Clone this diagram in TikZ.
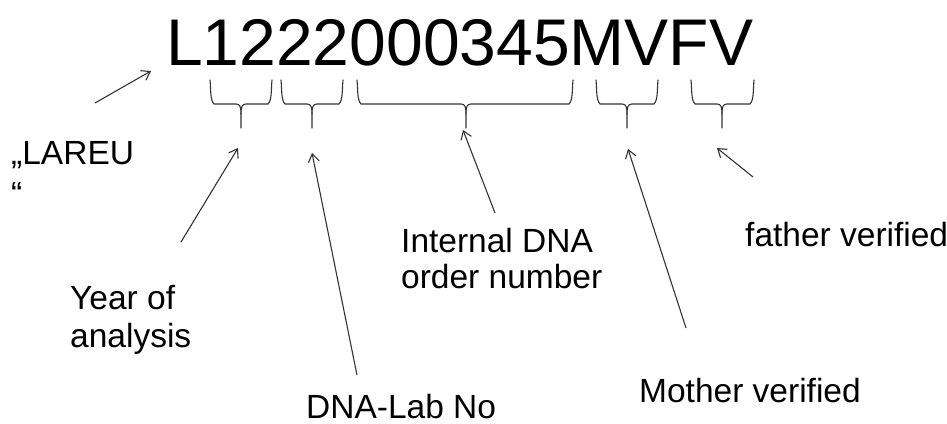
\documentclass[tikz,border=0pt]{standalone}
\usepackage{fontspec}
\setmainfont{Liberation Sans}
\usetikzlibrary{arrows.meta}

% underbracket: left x, right x, centre x, name of the tip
\newcommand\underbracket[4]{%
  \draw[bracketline] (#1,80) .. controls (#1+1,90) and (#1,100) .. (#1+4,104)
      -- (#3-5,104) .. controls (#3-1,104) and (#3,107) .. (#3,114) -- (#3,128);
  \draw[bracketline] (#2,80) .. controls (#2-1,90) and (#2,100) .. (#2-4,104)
      -- (#3+5,104) .. controls (#3+1,104) and (#3,107) .. (#3,114);
  \coordinate (#4) at (#3,128);
}

\begin{document}
\begin{tikzpicture}[x=1pt,y=-1pt,
  bracketline/.style={line width=1.1pt, draw=black!80, line cap=round},
  pointer/.style={line width=1.1pt, draw=black!80,
    -{Straight Barb[length=8pt,width=11pt,line width=1.1pt]}},
  lbl/.style={inner sep=0pt, anchor=north west, align=left,
    font=\fontsize{33.5}{38}\selectfont, text=black},
  onelbl/.style={inner sep=0pt, anchor=base west,
    font=\fontsize{33.5}{38}\selectfont, text=black},
  code/.style={inner sep=0pt, anchor=base west,
    font=\fontsize{66}{66}\selectfont, text=black}]
\useasboundingbox (0,0) rectangle (947,423);

% the sample identifier
\node[code] (id) at (166,65) {L1222000345MVFV};

% brackets under its fields
\underbracket{210}{272}{241}{yeartip}
\underbracket{281}{343}{312}{labtip}
\underbracket{357}{573}{466}{ordertip}
\underbracket{596}{658}{627}{mothertip}
\underbracket{691}{754}{722}{fathertip}

% labels
\node[lbl, font=\fontsize{33.5}{41}\selectfont] (lareu) at (11,141) {„LAREU\\“};
\node[lbl] (year) at (70,285) {Year of\\analysis};
\node[onelbl] (lab) at (306,418) {DNA-Lab No};
\node[lbl, font=\fontsize{33.5}{36}\selectfont] (order) at (401,228) {Internal DNA\\order number};
\node[onelbl] (mother) at (639,402) {Mother verified};
\node[onelbl] (father) at (745,246) {father verified};

% pointer ends
\coordinate (lareuA) at (95,103);   \coordinate (lareuB) at (151,71);
\coordinate (yearA) at (181,242);   \coordinate (yearB) at (238,148);
\coordinate (labA) at (357,375);    \coordinate (labB) at (312,153);
\coordinate (orderA) at (495,213);  \coordinate (orderB) at (463,130);
\coordinate (motherA) at (686,328); \coordinate (motherB) at (628,149);
\coordinate (fatherA) at (753,177); \coordinate (fatherB) at (717,148);

\draw[pointer] (lareuA) -- (lareuB);
\draw[pointer] (yearA) -- (yearB);
\draw[pointer] (labA) -- (labB);
\draw[pointer] (orderA) -- (orderB);
\draw[pointer] (motherA) -- (motherB);
\draw[pointer] (fatherA) -- (fatherB);
\end{tikzpicture}
\end{document}
